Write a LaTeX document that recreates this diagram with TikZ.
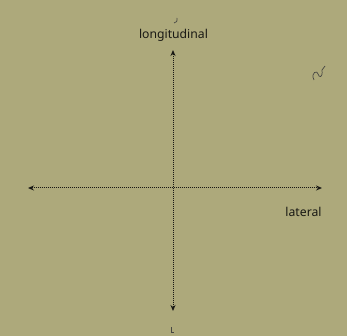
\documentclass[tikz,border=0pt]{standalone}
\usepackage{fontspec}
\setmainfont{Noto Sans}
\usetikzlibrary{arrows.meta}
\definecolor{bgolive}{RGB}{173,169,123}
\definecolor{inkdark}{RGB}{25,25,20}
\tikzset{
  axis/.style={draw=inkdark, line width=1pt, densely dotted, {Stealth[length=6pt,width=5pt]}-{Stealth[length=6pt,width=5pt]}},
  lbl/.style={font=\fontsize{12.2}{14}\selectfont, text=inkdark, inner sep=0pt},
  scribble/.style={draw=inkdark!80, line width=0.7pt}
}
\begin{document}
\begin{tikzpicture}[x=1pt,y=-1pt]
\fill[bgolive] (0,0) rectangle (347,336);
\useasboundingbox (0,0) rectangle (347,336);
\coordinate (top) at (173,50);
\coordinate (bot) at (173,311);
\coordinate (left) at (28,188);
\coordinate (right) at (322,188);
\draw[axis] (bot) -- (top);
\draw[axis] (left) -- (right);
\node[lbl] (lon) at (173.5,35) {longitudinal};
\node[lbl] (lat) at (303.5,212) {lateral};
\draw[scribble] (177,18) .. controls (177,22) .. (174,23);
\draw[scribble] (171,327) -- (171,332) -- (174,332);
\draw[scribble] (314,80) .. controls (310,72) and (318,70) .. (318,74) .. controls (319,78) and (323,78) .. (322,70) -- (325,66);
\end{tikzpicture}
\end{document}
